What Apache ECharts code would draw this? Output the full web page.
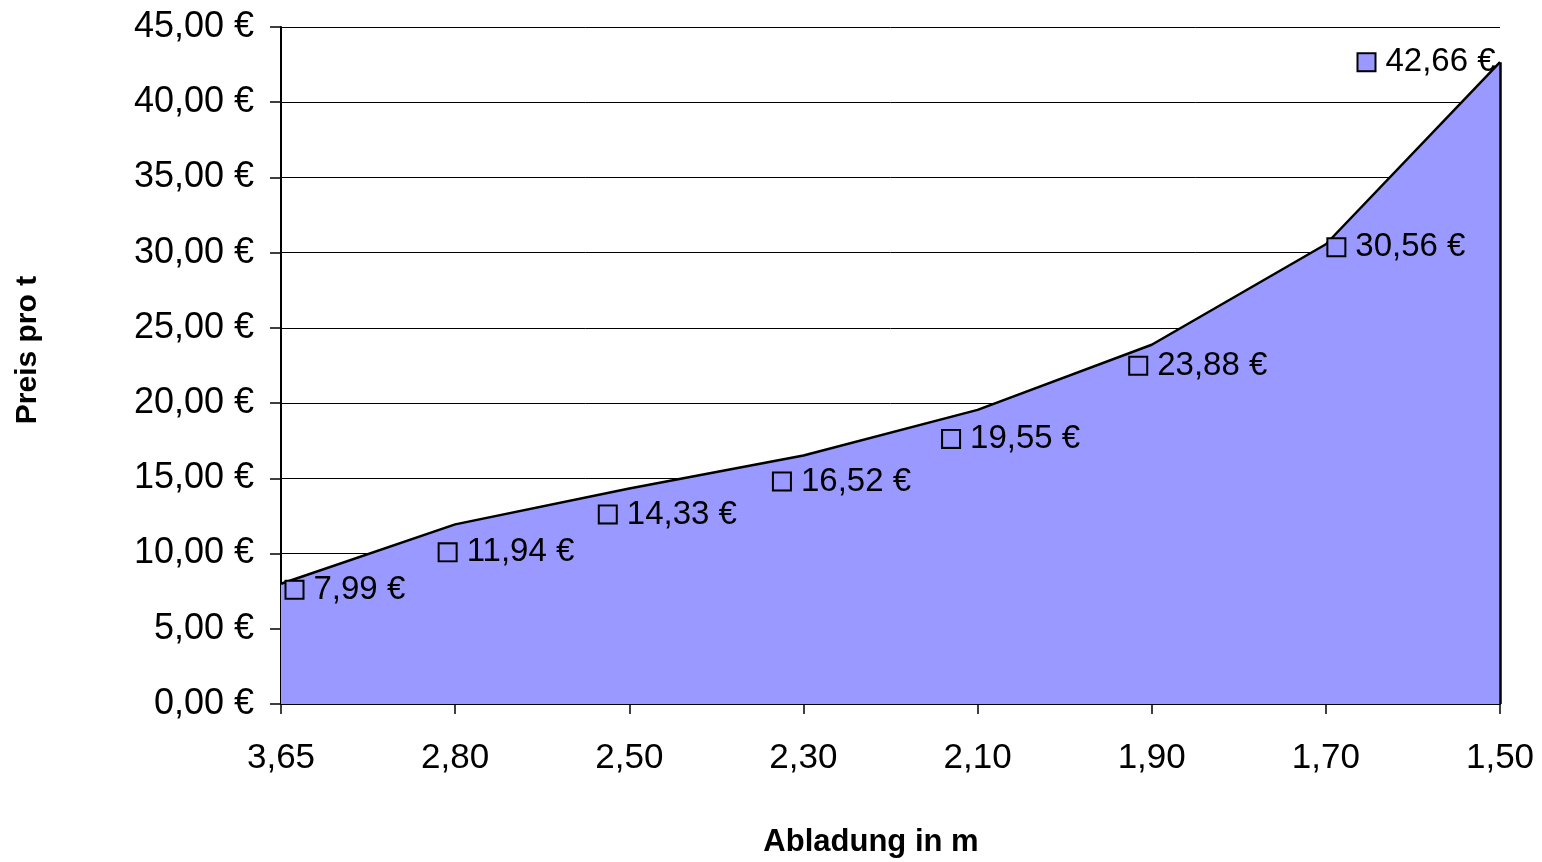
<!DOCTYPE html>
<html>
<head>
<meta charset="utf-8">
<script src="https://cdn.jsdelivr.net/npm/echarts@6/dist/echarts.min.js"></script>
<style>
html,body{margin:0;padding:0;background:#fff;}
#c{width:1542px;height:862px;}
</style>
</head>
<body>
<div id="c"></div>
<script>
const categories = ['3,65','2,80','2,50','2,30','2,10','1,90','1,70','1,50'];
const prices = [7.99, 11.94, 14.33, 16.52, 19.55, 23.88, 30.56, 42.66];
const yTicks = {min: 0, max: 45, interval: 5};
const yTitle = 'Preis pro t';
const xTitle = 'Abladung in m';

// label placement tweaks (style only)
const labelOffsets = [[5,6],[-16,28],[-30,26],[-30,26],[-35,29],[-22,21],[2,3],[-142,0]];

function euro(v){ return v.toFixed(2).replace('.', ',') + ' €'; }

const FONT = 'Liberation Sans, Arial, sans-serif';
const chart = echarts.init(document.getElementById('c'));
chart.setOption({
  animation: false,
  backgroundColor: '#fff',
  grid: {left: 281, right: 42, top: 27, bottom: 158},
  xAxis: {
    type: 'category',
    data: categories,
    boundaryGap: false,
    axisLine: {lineStyle: {color: '#000', width: 2}},
    axisTick: {show: true, length: 10, lineStyle: {color: '#000', width: 1.5}},
    axisLabel: {color: '#000', fontFamily: FONT, fontSize: 35, margin: 37},
    splitLine: {show: false}
  },
  yAxis: {
    type: 'value',
    min: yTicks.min, max: yTicks.max, interval: yTicks.interval,
    axisLine: {show: true, lineStyle: {color: '#000', width: 2}},
    axisTick: {show: true, length: 11, lineStyle: {color: '#000', width: 1.5}},
    axisLabel: {color: '#000', fontFamily: FONT, fontSize: 36, margin: 27, formatter: v => euro(v)},
    splitLine: {show: true, lineStyle: {color: '#000', width: 1}}
  },
  graphic: [
    {type: 'text', x: 28, y: 350, rotation: Math.PI/2,
     style: {text: yTitle, font: 'bold 30px ' + FONT, fill: '#000', align: 'center', verticalAlign: 'middle'}},
    {type: 'text', x: 871, y: 842,
     style: {text: xTitle, font: 'bold 31px ' + FONT, fill: '#000', align: 'center', verticalAlign: 'middle'}}
  ],
  series: [{
    type: 'line',
    data: prices.map((v, i) => ({
      value: v,
      label: {offset: labelOffsets[i]}
    })),
    symbol: 'rect',
    symbolSize: 1,
    showSymbol: true,
    itemStyle: {color: 'rgba(0,0,0,0)'},
    lineStyle: {color: '#000', width: 2.5},
    areaStyle: {color: '#9999FF', opacity: 1},
    emphasis: {disabled: true},
    silent: true,
    label: {
      show: true,
      position: 'right',
      distance: 0,
      color: '#000',
      fontFamily: FONT,
      fontSize: 33,
      formatter: p => '{sq|}{gap|}' + euro(p.value),
      rich: {
        sq: {width: 16, height: 16, backgroundColor: '#9999FF', borderColor: '#000', borderWidth: 2},
        gap: {width: 11}
      }
    },
    markLine: {
      silent: true,
      symbol: 'none',
      label: {show: false},
      lineStyle: {color: '#000', width: 2.5, type: 'solid'},
      data: [[{coord: [categories.length - 1, 0]}, {coord: [categories.length - 1, prices[prices.length - 1]]}]]
    }
  }]
});
</script>
</body>
</html>
